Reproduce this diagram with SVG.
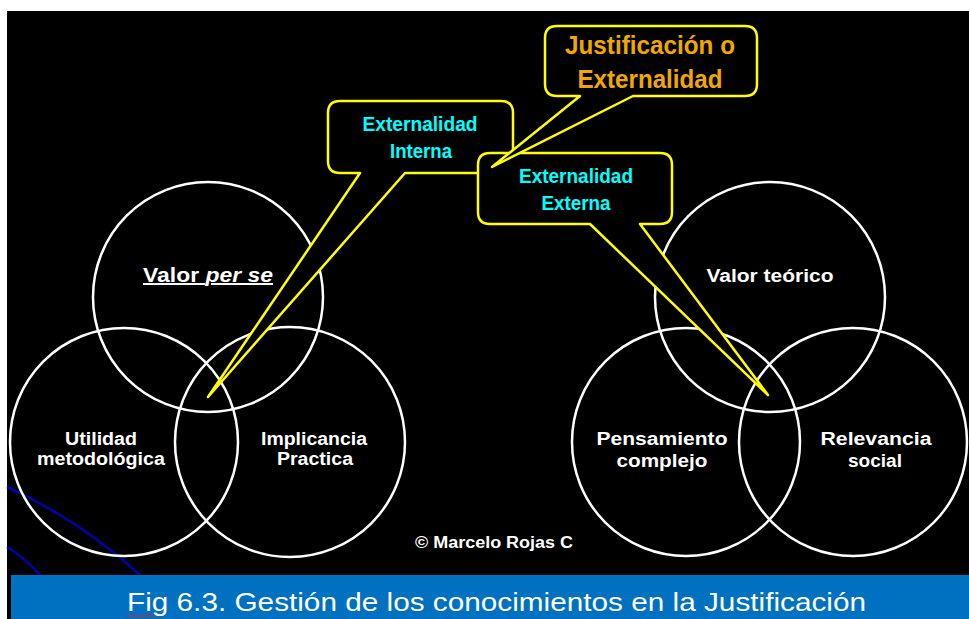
<svg xmlns="http://www.w3.org/2000/svg" width="969" height="619" viewBox="0 0 969 619">
<style>
.c{fill:none;stroke:#ffffff;stroke-width:2.5}
.call{fill:#000;stroke:#ffff00;stroke-width:2.5;stroke-linejoin:round}
.t{font-family:"Liberation Sans",Arial,sans-serif;font-weight:bold;fill:#fff;text-anchor:middle}
.cy{font-family:"Liberation Sans",Arial,sans-serif;font-weight:bold;fill:#00ffff;text-anchor:middle;font-size:19.5px}
.or{font-family:"Liberation Sans",Arial,sans-serif;font-weight:bold;fill:#f0a800;text-anchor:middle;font-size:26px}
</style>
<rect width="969" height="619" fill="#fff"/>
<rect x="7" y="11" width="962" height="608" fill="#000"/>
<g id="decor">
<path d="M7,487 Q80,520 140,575" fill="none" stroke="#0000a8" stroke-width="2.5"/>
<path d="M7,547 Q25,558 40,575" fill="none" stroke="#0000a8" stroke-width="2.5"/>
</g>
<g id="left-top"><circle class="c" cx="208" cy="297" r="115"/><text class="t" x="208" y="282" font-size="20" textLength="130" lengthAdjust="spacingAndGlyphs" text-decoration="underline">Valor <tspan font-style="italic">per se</tspan></text></g>
<g id="left-bl"><circle class="c" cx="124" cy="442" r="114"/><text class="t" x="101" y="445" font-size="18" textLength="72" lengthAdjust="spacingAndGlyphs">Utilidad</text><text class="t" x="101" y="465" font-size="18" textLength="128" lengthAdjust="spacingAndGlyphs">metodológica</text></g>
<g id="left-br"><circle class="c" cx="290" cy="442" r="115"/><text class="t" x="314" y="445" font-size="18" textLength="106" lengthAdjust="spacingAndGlyphs">Implicancia</text><text class="t" x="315" y="465" font-size="18" textLength="76" lengthAdjust="spacingAndGlyphs">Practica</text></g>
<g id="right-top"><circle class="c" cx="770" cy="297" r="115"/><text class="t" x="770" y="282" font-size="18" textLength="127" lengthAdjust="spacingAndGlyphs">Valor teórico</text></g>
<g id="right-bl"><circle class="c" cx="686" cy="442" r="114"/><text class="t" x="662" y="445" font-size="18" textLength="131" lengthAdjust="spacingAndGlyphs">Pensamiento</text><text class="t" x="662" y="467" font-size="18" textLength="91" lengthAdjust="spacingAndGlyphs">complejo</text></g>
<g id="right-br"><circle class="c" cx="853" cy="442" r="114"/><text class="t" x="876" y="445" font-size="18" textLength="111" lengthAdjust="spacingAndGlyphs">Relevancia</text><text class="t" x="875" y="467" font-size="18" textLength="54" lengthAdjust="spacingAndGlyphs">social</text></g>
<g id="callout-interna">
<path class="call" d="M340,101 H501 Q513,101 513,113 V161 Q513,173 501,173 H405 L208,397 L360,173 H340 Q328,173 328,161 V113 Q328,101 340,101 Z"/>
<text class="cy" x="420" y="131" textLength="115" lengthAdjust="spacingAndGlyphs">Externalidad</text><text class="cy" x="421" y="158" textLength="62" lengthAdjust="spacingAndGlyphs">Interna</text>
</g>
<g id="callout-externa">
<path class="call" d="M490,153 H660 Q672,153 672,165 V212 Q672,224 660,224 H640 L768,395 L590,224 H490 Q478,224 478,212 V165 Q478,153 490,153 Z"/>
<text class="cy" x="576" y="183" textLength="114" lengthAdjust="spacingAndGlyphs">Externalidad</text><text class="cy" x="576" y="210" textLength="69" lengthAdjust="spacingAndGlyphs">Externa</text>
</g>
<g id="callout-just">
<path class="call" d="M557,26 H745 Q757,26 757,38 V84 Q757,96 745,96 H633 L492,167 L580,96 H557 Q545,96 545,84 V38 Q545,26 557,26 Z"/>
<text class="or" x="650" y="54" textLength="170" lengthAdjust="spacingAndGlyphs">Justificación o</text><text class="or" x="650" y="88" textLength="145" lengthAdjust="spacingAndGlyphs">Externalidad</text>
</g>
<text class="t" x="494" y="548" font-size="16" textLength="158" lengthAdjust="spacingAndGlyphs">© Marcelo Rojas C</text>
<g id="caption">
<rect x="11" y="575" width="958" height="44" fill="#0070c0"/>
<text x="127" y="611" font-family="'Liberation Sans',Arial,sans-serif" font-size="25" fill="#fff" textLength="739" lengthAdjust="spacingAndGlyphs">Fig 6.3. Gestión de los conocimientos en la Justificación</text>
<path d="M127,617 l2,-2 l2,2 l2,-2 l2,2 l2,-2 l2,2 l2,-2 l2,2 l2,-2 l2,2 l2,-2 l2,2 l2,-2 l2,2" fill="none" stroke="#e02020" stroke-width="1"/>
</g>
</svg>
